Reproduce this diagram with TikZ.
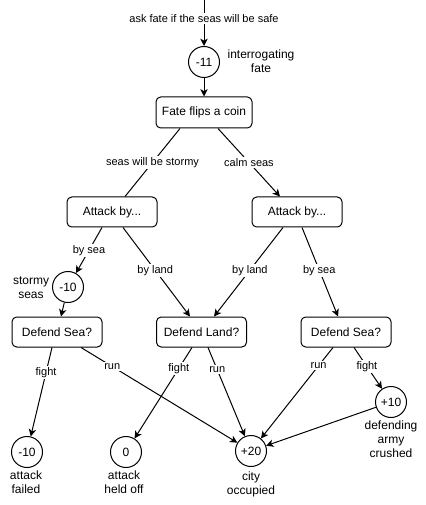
\documentclass[tikz,border=0pt]{standalone}
\usepackage{fontspec}
\setmainfont{Liberation Sans}
\usetikzlibrary{calc,arrows.meta}
\tikzset{
	box/.style={draw, rounded corners=3.5pt, minimum width=67.5pt, minimum height=22.5pt, inner sep=0pt, font=\fontsize{9}{10.5}\selectfont},
	val/.style={draw, circle, minimum size=23.25pt, inner sep=0pt, font=\fontsize{9}{10.5}\selectfont},
	note/.style={align=center, inner sep=0pt, font=\fontsize{9}{10.5}\selectfont},
	lbl/.style={fill=white, inner sep=1pt, font=\fontsize{8.25}{9.5}\selectfont},
	arr/.style={-{Stealth[length=5.5pt,width=5.5pt,inset=1.5pt]}},
}

\begin{document}
\begin{tikzpicture}[x=0.75pt, y=-0.75pt, line width=0.75pt]
			%%%%% START %%%%%
			\useasboundingbox (0,0) rectangle (425,505);
			
			\coordinate (start) at (204,0);
			\node[val] (c11) at (204,62) {-11};
			\node[note] (c11t) at (261,61) {interrogating\\fate};
			\draw[arr] (start) -- (c11) node[lbl, pos=0.41] {ask fate if the seas will be safe};
			
			\node[box, minimum width=72pt, minimum height=23.25pt] (fate) at (204,112.5) {Fate flips a coin};
			\draw[arr] (c11) -- (fate);
			
			\node[box] (atkL) at (112,212) {Attack by...};
			\node[box] (atkR) at (297,212) {Attack by...};
			\draw ($(fate.south)+(-24,0)$) -- ($(atkL.north)+(13,0)$) node[lbl, pos=0.5] {seas will be stormy};
			\draw[arr] ($(fate.south)+(14,0)$) -- ($(atkR.north)+(-17,0)$) node[lbl, pos=0.5] {calm seas};
			
			\node[val] (c10) at (68,287) {-10};
			\node[note] (c10t) at (31,287.5) {stormy\\seas};
			\node[box] (dsL) at (57,332) {Defend Sea?};
			\node[box] (dl) at (201.5,332) {Defend Land?};
			\node[box] (dsR) at (346,332) {Defend Sea?};
			
			\draw[arr] ($(atkL.south)+(-10,0)$) -- (c10) node[lbl, pos=0.5] {by sea};
			\draw[arr] (c10) -- ($(dsL.north)+(4,0)$);
			\draw[arr] ($(atkL.south)+(11,0)$) -- ($(dl.north)+(-11.5,0)$) node[lbl, pos=0.48] {by land};
			\draw[arr] ($(atkR.south)+(-14,0)$) -- ($(dl.north)+(12.5,0)$) node[lbl, pos=0.48] {by land};
			\draw[arr] ($(atkR.south)+(5,0)$) -- ($(dsR.north)+(-8,0)$) node[lbl, pos=0.48] {by sea};
			
			\node[val] (f10) at (27,452) {-10};
			\node[note] (f10t) at (26,482.5) {attack\\failed};
			\node[val] (z0) at (126,452) {0};
			\node[note] (z0t) at (124,482.5) {attack\\held off};
			\node[val] (p20) at (251,451) {+20};
			\node[note] (p20t) at (251,484) {city\\occupied};
			\node[val] (p10) at (391,402) {+10};
			\node[note] (p10t) at (391,439) {defending\\army\\crushed};
			
			\draw[arr] ($(dsL.south)+(-5,0)$) -- (f10) node[lbl, pos=0.28] {fight};
			\draw[arr] ($(dsL.south)+(24,0)$) -- (p20) node[lbl, pos=0.2] {run};
			\draw[arr] ($(dl.south)+(-9.5,0)$) -- (z0) node[lbl, pos=0.23] {fight};
			\draw[arr] ($(dl.south)+(6.5,0)$) -- (p20) node[lbl, pos=0.25] {run};
			\draw[arr] ($(dsR.south)+(-13,0)$) -- (p20) node[lbl, pos=0.2] {run};
			\draw[arr] ($(dsR.south)+(8,0)$) -- (p10) node[lbl, pos=0.46] {fight};
			\draw[arr] (p10) -- (p20);
			
			%%%%% END %%%%%
\end{tikzpicture}
\end{document}
